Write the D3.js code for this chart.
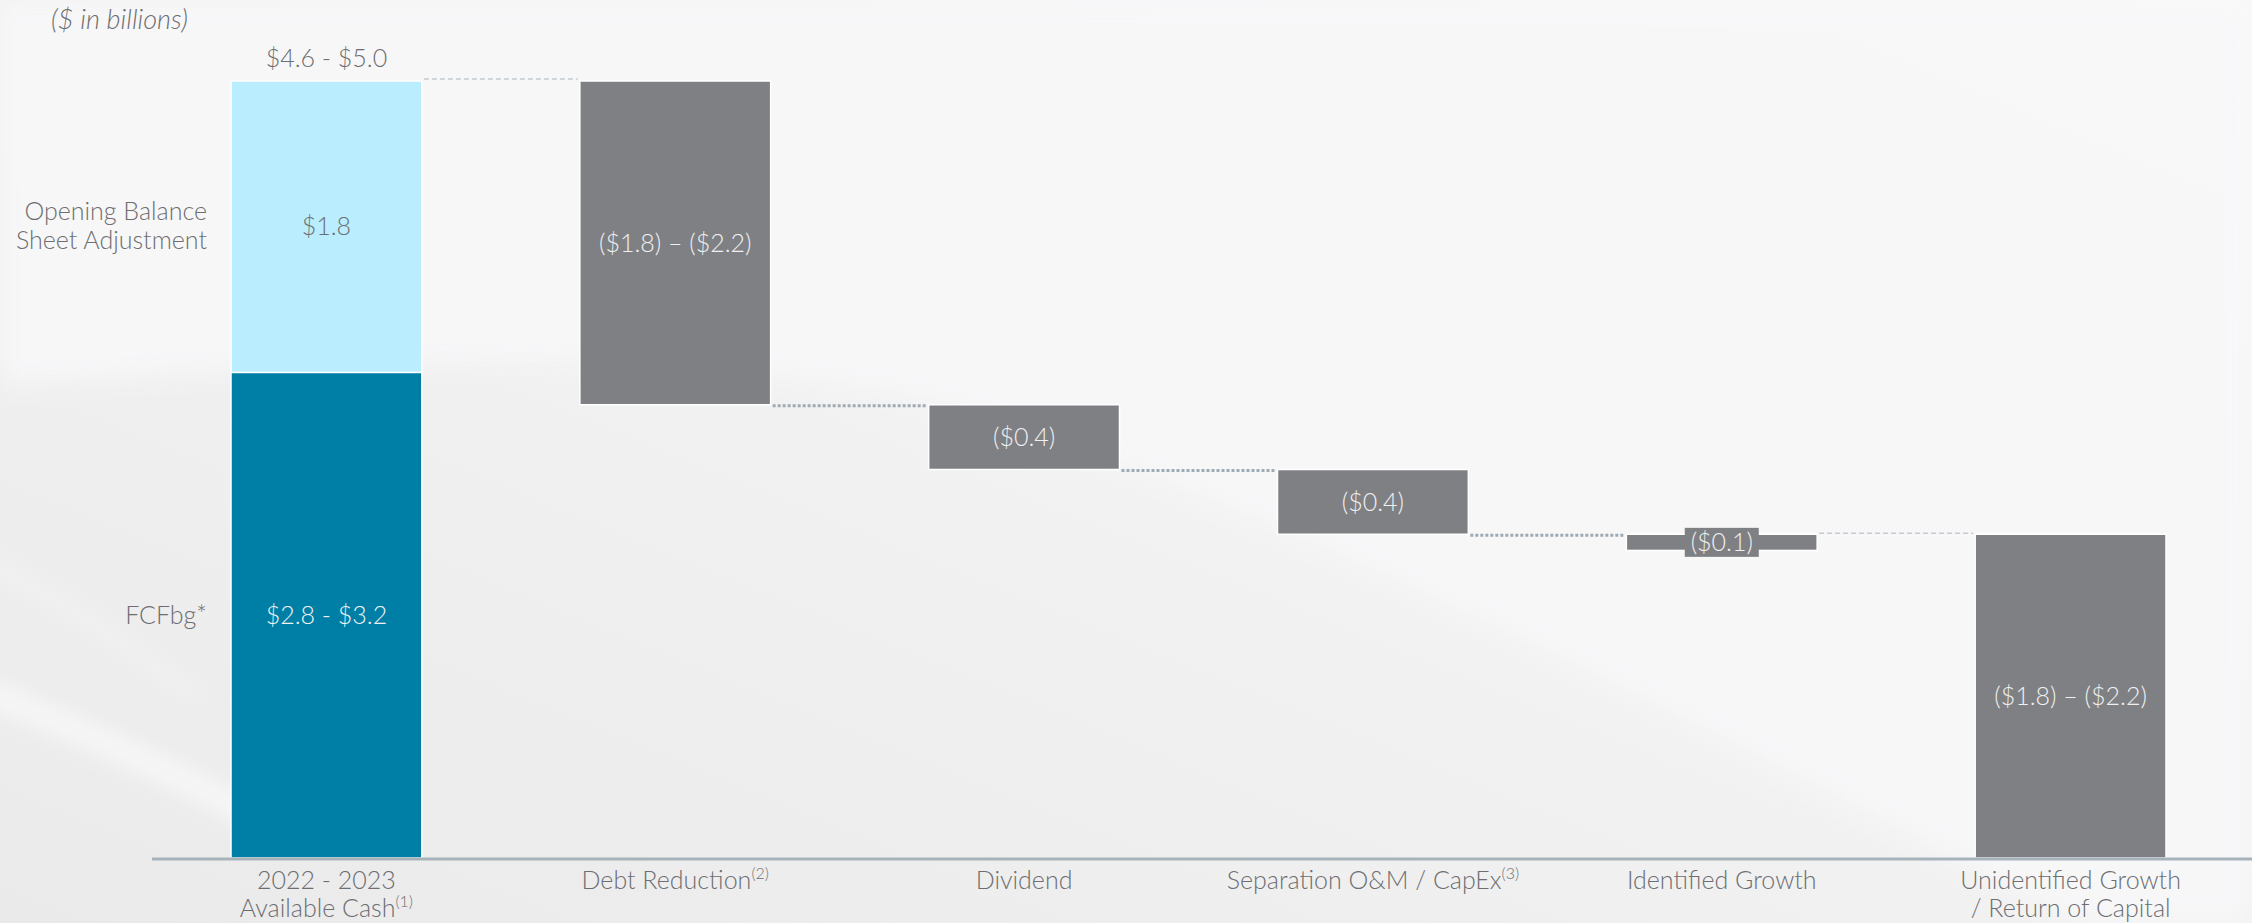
<!DOCTYPE html>
<html>
<head>
<meta charset="utf-8">
<script src="https://cdn.jsdelivr.net/npm/d3@7/dist/d3.min.js"></script>
<style>
  html, body { margin: 0; padding: 0; background: #f5f5f6; }
  svg { display: block; font-family: Lato, "Open Sans", sans-serif; }
</style>
</head>
<body>
<svg id="chart" width="2252" height="923"></svg>
<script>
// ---- data ($ in billions, range midpoints) ----
const categories = ["Available Cash", "Debt Reduction", "Dividend", "Separation", "Identified Growth", "Unidentified Growth"];
const categoryLines = [
  ["2022 - 2023", "Available Cash"],
  ["Debt Reduction"],
  ["Dividend"],
  ["Separation O&M / CapEx"],
  ["Identified Growth"],
  ["Unidentified Growth", "/ Return of Capital"]
];
const footnotes = ["1", "2", "", "3", "", ""];
const stackNames = ["FCFbg*", "Opening Balance|Sheet Adjustment"];
const stackValues = [3.0, 1.8];               // FCFbg, opening balance sheet adjustment
const stackLabels = ["$2.8 - $3.2", "$1.8"];
const totalLabel = "$4.6 - $5.0";
const uses = [2.0, 0.4, 0.4, 0.1];            // debt, dividend, separation, identified growth
const useLabels = ["($1.8) \u2013 ($2.2)", "($0.4)", "($0.4)", "($0.1)"];
const remaining = 2.0;                        // unidentified growth / return of capital
const remainingLabel = "($1.8) \u2013 ($2.2)";

const svg = d3.select("#chart");
const W = 2252, H = 923;
const FS = 25;

// ---- background ----
const defs = svg.append("defs");
const bg = defs.append("linearGradient").attr("id", "bg").attr("x1", 0).attr("y1", 1).attr("x2", 1).attr("y2", 0);
bg.append("stop").attr("offset", 0).attr("stop-color", "#eaeaeb");
bg.append("stop").attr("offset", 0.5).attr("stop-color", "#f2f2f3");
bg.append("stop").attr("offset", 1).attr("stop-color", "#f9f9fa");
svg.append("rect").attr("width", W).attr("height", H).attr("fill", "url(#bg)");

const blur = defs.append("filter").attr("id", "soft").attr("x", "-20%").attr("y", "-20%").attr("width", "140%").attr("height", "140%");
blur.append("feGaussianBlur").attr("stdDeviation", 12);

// lighter sweep above the curve
svg.append("path")
  .attr("d", "M0,0 L2252,0 L2252,923 L2080,923 C1800,780 1400,560 1000,420 C750,340 400,360 0,385 Z")
  .attr("fill", "#f8f8f9").attr("opacity", 0.9).attr("filter", "url(#soft)");
// white streaks in the lower left
svg.append("path")
  .attr("d", "M-20,690 C80,730 170,770 260,820")
  .attr("stroke", "#ffffff").attr("stroke-width", 18).attr("fill", "none")
  .attr("opacity", 0.85).attr("filter", "url(#soft)");
svg.append("path")
  .attr("d", "M-20,560 C60,600 120,640 200,700")
  .attr("stroke", "#fafafa").attr("stroke-width", 10).attr("fill", "none")
  .attr("opacity", 0.6).attr("filter", "url(#soft)");

// ---- scales ----
const x = d3.scaleBand().domain(categories).range([231, 2166]).paddingInner(0.453).paddingOuter(0);
const total = d3.sum(stackValues);
const y = d3.scaleLinear().domain([0, total]).range([858, 81]);

const textGray = "#6d6e71";
const barGray = "#7f8084";

// ---- opening stacked bar ----
const stackColors = ["#007fa6", "#baeefe"];
let base = 0;
const stacks = stackValues.map((v, i) => {
  const s = { name: stackNames[i], y0: base, y1: base + v, label: stackLabels[i], color: stackColors[i] };
  base += v;
  return s;
});

svg.selectAll("rect.stack").data(stacks).join("rect")
  .attr("class", "stack")
  .attr("x", x(categories[0]))
  .attr("width", x.bandwidth())
  .attr("y", d => y(d.y1))
  .attr("height", d => y(d.y0) - y(d.y1))
  .attr("fill", d => d.color)
  .attr("stroke", "#ffffff").attr("stroke-width", 1.5);

svg.selectAll("text.stackLabel").data(stacks).join("text")
  .attr("class", "stackLabel")
  .attr("x", x(categories[0]) + x.bandwidth() / 2)
  .attr("y", d => (y(d.y0) + y(d.y1)) / 2)
  .attr("dy", "0.35em")
  .attr("text-anchor", "middle")
  .attr("font-size", FS).attr("font-weight", 300)
  .attr("fill", (d, i) => i === 0 ? "#f2f2f2" : textGray)
  .text(d => d.label);

// stack row labels on the left
stacks.forEach(s => {
  const lines = s.name.split("|");
  const t = svg.append("text")
    .attr("x", 207)
    .attr("y", (y(s.y0) + y(s.y1)) / 2)
    .attr("text-anchor", "end")
    .attr("font-size", FS).attr("font-weight", 300)
    .attr("fill", textGray);
  lines.forEach((ln, j) => {
    t.append("tspan").attr("x", 207)
      .attr("dy", j === 0 ? `${0.35 - (lines.length - 1) * 0.6}em` : "1.15em")
      .text(ln);
  });
});

svg.append("text")
  .attr("x", x(categories[0]) + x.bandwidth() / 2)
  .attr("y", 67)
  .attr("text-anchor", "middle")
  .attr("font-size", FS).attr("font-weight", 300)
  .attr("fill", textGray)
  .text(totalLabel);

// ---- floating deductions ----
let level = total;
const steps = uses.map((v, i) => {
  const s = { cat: categories[i + 1], top: level, bottom: level - v, label: useLabels[i] };
  level -= v;
  return s;
});
const last = { cat: categories[5], top: remaining, bottom: 0, label: remainingLabel };
const floating = steps.concat([last]);

svg.selectAll("rect.step").data(floating).join("rect")
  .attr("class", "step")
  .attr("x", d => x(d.cat))
  .attr("width", x.bandwidth())
  .attr("y", d => y(d.top))
  .attr("height", d => y(d.bottom) - y(d.top))
  .attr("fill", barGray)
  .attr("stroke", "#ffffff").attr("stroke-width", 1.5);

// label backgrounds for thin bars
floating.forEach(d => {
  const h = y(d.bottom) - y(d.top);
  const cx = x(d.cat) + x.bandwidth() / 2;
  const cy = (y(d.top) + y(d.bottom)) / 2;
  if (h < 30) {
    svg.append("rect")
      .attr("x", cx - 37).attr("y", cy - 14.5)
      .attr("width", 74).attr("height", 29)
      .attr("fill", barGray);
  }
  svg.append("text")
    .attr("x", cx).attr("y", cy)
    .attr("dy", "0.35em")
    .attr("text-anchor", "middle")
    .attr("font-size", FS).attr("font-weight", 300)
    .attr("fill", "#f0f0f0")
    .text(d.label);
});

// ---- connectors ----
const gap = 2;
// total -> debt reduction (fine dashed)
svg.append("line")
  .attr("x1", x(categories[0]) + x.bandwidth() + gap).attr("x2", x(categories[1]) - gap)
  .attr("y1", y(total) - 2).attr("y2", y(total) - 2)
  .attr("stroke", "#c3cad0").attr("stroke-width", 1.5).attr("stroke-dasharray", "5,3");

// between deductions (dotted)
for (let i = 0; i < steps.length - 1; i++) {
  const yy = y(steps[i].bottom) + 1;
  svg.append("line")
    .attr("x1", x(steps[i].cat) + x.bandwidth() + gap).attr("x2", x(steps[i + 1].cat) - gap)
    .attr("y1", yy).attr("y2", yy)
    .attr("stroke", "#9eabb4").attr("stroke-width", 3).attr("stroke-dasharray", "3,2");
}

// identified growth -> unidentified (fine dashed)
svg.append("line")
  .attr("x1", x(categories[4]) + x.bandwidth() + gap).attr("x2", x(categories[5]) - gap)
  .attr("y1", y(remaining) - 1).attr("y2", y(remaining) - 1)
  .attr("stroke", "#c3cad0").attr("stroke-width", 1.5).attr("stroke-dasharray", "5,3");

// ---- baseline ----
svg.append("line")
  .attr("x1", 152).attr("x2", W)
  .attr("y1", y(0) + 1).attr("y2", y(0) + 1)
  .attr("stroke", "#a7b3bb").attr("stroke-width", 3);

// ---- category labels ----
categoryLines.forEach((lines, i) => {
  const cx = x(categories[i]) + x.bandwidth() / 2;
  const t = svg.append("text")
    .attr("x", cx).attr("y", 889)
    .attr("text-anchor", "middle")
    .attr("font-size", FS).attr("font-weight", 300)
    .attr("fill", textGray);
  lines.forEach((ln, j) => {
    const isLast = j === lines.length - 1;
    const note = footnotes[i] && isLast ? footnotes[i] : "";
    t.append("tspan").attr("x", cx).attr("dy", j === 0 ? 0 : 28).text(ln);
    if (note) {
      t.append("tspan").attr("font-size", 16).attr("dy", -10).text(`(${note})`);
      t.append("tspan").attr("font-size", FS).attr("dy", 10).text("");
    }
  });
});

// ---- units note ----
svg.append("text")
  .attr("x", 51).attr("y", 29)
  .attr("font-size", 27).attr("font-style", "italic").attr("font-weight", 300)
  .attr("fill", textGray)
  .text("($ in billions)");
</script>
</body>
</html>
